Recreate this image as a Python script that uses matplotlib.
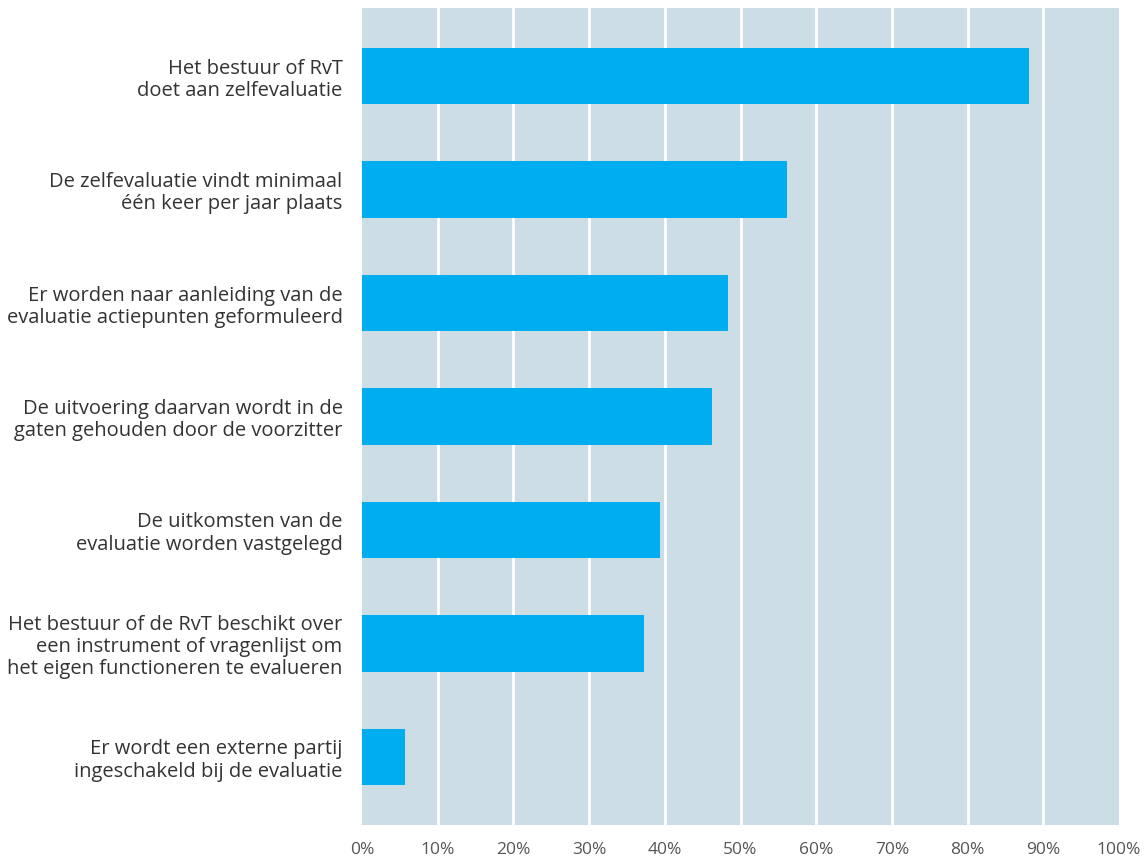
import matplotlib
matplotlib.use("Agg")
import matplotlib.pyplot as plt
import numpy as np

# Zelfevaluatie bestuur / RvT (aandeel in %)
labels = [
    "Het bestuur of RvT\ndoet aan zelfevaluatie",
    "De zelfevaluatie vindt minimaal\néén keer per jaar plaats",
    "Er worden naar aanleiding van de\nevaluatie actiepunten geformuleerd",
    "De uitvoering daarvan wordt in de\ngaten gehouden door de voorzitter",
    "De uitkomsten van de\nevaluatie worden vastgelegd",
    "Het bestuur of de RvT beschikt over\neen instrument of vragenlijst om\nhet eigen functioneren te evalueren",
    "Er wordt een externe partij\ningeschakeld bij de evaluatie",
]
values = [88.1, 56.1, 48.3, 46.2, 39.3, 37.2, 5.7]
xticks = [0, 10, 20, 30, 40, 50, 60, 70, 80, 90, 100]

plt.rcParams['font.family'] = ['Open Sans', 'DejaVu Sans']

fig = plt.figure(figsize=(11.47, 8.59), dpi=100)
ax = fig.add_axes([0.3156, 0.0396, 0.66, 0.9511])
ax.set_facecolor('#cddde5')

ypos = np.arange(len(values))
ax.barh(ypos, values, height=0.5, color='#00aeef', zorder=3)

ax.set_xlim(0, 100)
ax.set_ylim(len(values) - 0.4, -0.6)
ax.set_xticks(xticks)
ax.set_xticklabels([f"{t}%" for t in xticks], fontsize=12.5, color='#555555')
ax.set_yticks(ypos)
ax.set_yticklabels(labels, fontsize=14.5, color='#333333', linespacing=1.15)

# witte verticale rasterlijnen
for x in xticks[1:-1]:
    ax.axvline(x, color='white', lw=2, zorder=2)

for s in ax.spines.values():
    s.set_visible(False)
ax.tick_params(axis='both', length=0)
ax.tick_params(axis='y', pad=14)
ax.tick_params(axis='x', pad=12)

fig.savefig('out.png', dpi=100)
